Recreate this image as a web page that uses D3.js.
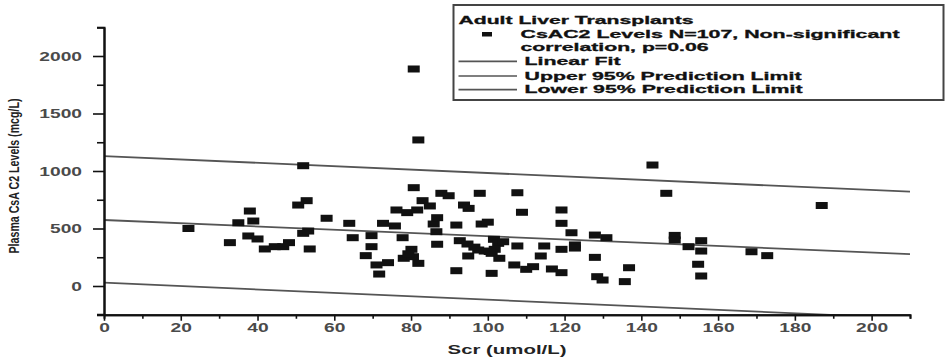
<!DOCTYPE html>
<html>
<head>
<meta charset="utf-8">
<script src="https://cdn.jsdelivr.net/npm/d3@7"></script>
<style>
  body { margin: 0; background: #fff; }
  svg { display: block; }
  text { font-family: "Liberation Sans", Arial, sans-serif; }
</style>
</head>
<body>
<svg id="chart" width="946" height="359"></svg>
<script>
// Serum creatinine (umol/L) for each adult liver transplant recipient
const scrValues = [
  22, 32.8, 35, 37.6, 38, 38.9, 40, 41.9, 44.5, 46.7,
  48.2, 50.6, 52.8, 51.9, 51.9, 53.2, 53.6, 58, 63.9, 64.8,
  68.2, 69.7, 69.7, 71, 71.7, 72.7, 74, 75.8, 76.2, 77.8,
  78.1, 79, 80.1, 80.5, 79.3, 80.7, 80.7, 81.9, 81.6, 81.9,
  83, 84.9, 85.9, 86.8, 86.6, 86.8, 87.9, 89.8, 91.8, 91.8,
  92.7, 93.8, 95, 94.7, 94.9, 97.5, 97.9, 98.4, 100, 99.2,
  101, 101.6, 102.7, 101.8, 101, 103, 107.7, 108.9, 107.7, 106.9,
  110, 111.8, 114.7, 113.8, 116.7, 119.2, 119.2, 119.2, 119.2, 121.8,
  122.7, 122.7, 127.9, 130.9, 127.9, 128.5, 129.9, 136.8, 135.7, 142.9,
  146.5, 148.7, 148.7, 152.3, 155.6, 155.6, 154.8, 155.6, 168.7, 172.8,
  187, 96.5, 104, 100.5
];

// Matching plasma CsA C2 levels (mcg/L)
const c2Levels = [
  500, 377, 550, 435, 652, 565, 409, 322, 342, 342,
  377, 704, 742, 1046, 458, 478, 322, 589, 545, 420,
  264, 438, 342, 183, 104, 545, 203, 522, 661, 420,
  241, 638, 319, 255, 280, 855, 1887, 1270, 661, 197,
  742, 696, 539, 594, 472, 363, 806, 785, 530, 133,
  394, 704, 675, 365, 261, 313, 806, 539, 555, 304,
  110, 406, 371, 319, 284, 241, 811, 641, 348, 183,
  145, 168, 348, 261, 148, 661, 545, 319, 116, 463,
  357, 330, 443, 420, 249, 81, 52, 159, 38, 1052,
  806, 440, 400, 342, 394, 304, 189, 87, 298, 264,
  700, 338, 385, 300
];

// Regression line and 95% prediction limits, as [Scr, C2] end points
const fitLine = [[0, 574], [210, 278]];
const upperLimit = [[0, 1130], [210, 820]];
const lowerLimit = [[0, 29], [210, -282]];

const xTicks = [0, 20, 40, 60, 80, 100, 120, 140, 160, 180, 200];
const xMinorTicks = [10, 30, 50, 70, 90, 110, 130, 150, 170, 190, 210];
const yTicks = [0, 500, 1000, 1500, 2000];
const yMinorTicks = [-250, 250, 750, 1250, 1750, 2250];

const xTitle = "Scr (umol/L)";
const yTitle = "Plasma CsA C2 Levels (mcg/L)";
const legendTitle = "Adult Liver Transplants";
const legendPointLabel = ["CsAC2 Levels N=107, Non-significant", "correlation, p=0.06"];
const legendLineLabels = ["Linear Fit", "Upper 95% Prediction Limit", "Lower 95% Prediction Limit"];

const svg = d3.select("#chart");
const STRETCH = 1.6;   // text in this figure is set wide

const x = d3.scaleLinear().domain([0, 210]).range([104, 910]);
const y = d3.scaleLinear().domain([-250, 2250]).range([314.75, 27.25]);

// clip region for the plot area
svg.append("defs").append("clipPath").attr("id", "plot-clip")
  .append("rect")
  .attr("x", x(0)).attr("y", y(2250))
  .attr("width", x(210) - x(0)).attr("height", y(-250) - y(2250));

// regression and prediction-limit lines
const line = d3.line().x(d => x(d[0])).y(d => y(d[1]));
const lineGroup = svg.append("g").attr("clip-path", "url(#plot-clip)");
[fitLine, upperLimit, lowerLimit].forEach(pts => {
  lineGroup.append("path")
    .attr("d", line(pts))
    .attr("fill", "none")
    .attr("stroke", "#555")
    .attr("stroke-width", 1.8);
});

// data markers
const points = scrValues.map((v, i) => [v, c2Levels[i]]);
svg.append("g").selectAll("rect").data(points).join("rect")
  .attr("x", d => x(d[0]) - 6)
  .attr("y", d => y(d[1]) - 3.5)
  .attr("width", 12)
  .attr("height", 7)
  .attr("fill", "#111");

// axes
function styleAxis(g) {
  g.select(".domain").attr("stroke", "#111").attr("stroke-width", 2);
  g.selectAll(".tick line").attr("stroke", "#111").attr("stroke-width", 1.6);
}

const yMinor = svg.append("g").attr("transform", `translate(${x(0)},0)`)
  .call(d3.axisLeft(y).tickValues(yMinorTicks).tickSize(7).tickFormat(""));
styleAxis(yMinor);
const yMajor = svg.append("g").attr("transform", `translate(${x(0)},0)`)
  .call(d3.axisLeft(y).tickValues(yTicks).tickSize(11).tickSizeOuter(0).tickFormat(d3.format("d")));
styleAxis(yMajor);
yMajor.selectAll(".tick text")
  .attr("x", 0).attr("dy", "0.34em")
  .attr("transform", `translate(-22,0) scale(${STRETCH},1)`)
  .attr("font-size", 12).attr("font-weight", "bold").attr("fill", "#4a4a4a");

const xMinor = svg.append("g").attr("transform", `translate(0,${y(-250)})`)
  .call(d3.axisBottom(x).tickValues(xMinorTicks).tickSize(4).tickFormat(""));
styleAxis(xMinor);
const xMajor = svg.append("g").attr("transform", `translate(0,${y(-250)})`)
  .call(d3.axisBottom(x).tickValues(xTicks).tickSize(6).tickSizeOuter(0).tickFormat(d3.format("d")));
styleAxis(xMajor);
xMajor.selectAll(".tick text")
  .attr("y", 0).attr("dy", "0.71em")
  .attr("transform", `translate(0,9) scale(${STRETCH},1)`)
  .attr("font-size", 12).attr("font-weight", "bold").attr("fill", "#4a4a4a");

// small stub of the x axis left of the y axis
svg.append("line")
  .attr("x1", x(0) - 7).attr("x2", x(0))
  .attr("y1", y(-250)).attr("y2", y(-250))
  .attr("stroke", "#111").attr("stroke-width", 2);

// axis titles
svg.append("text")
  .attr("transform", `translate(${(x(0) + x(210)) / 2},354) scale(1.7,1)`)
  .attr("text-anchor", "middle")
  .attr("font-size", 12).attr("font-weight", "bold").attr("fill", "#222")
  .text(xTitle);

svg.append("text")
  .attr("transform", `translate(19,176) rotate(-90) scale(1,${STRETCH})`)
  .attr("text-anchor", "middle")
  .attr("font-size", 9.5).attr("font-weight", "bold").attr("fill", "#222")
  .attr("textLength", 155).attr("lengthAdjust", "spacingAndGlyphs")
  .text(yTitle);

// legend
const legend = svg.append("g");
legend.append("rect")
  .attr("x", 453.5).attr("y", 5)
  .attr("width", 490).attr("height", 95)
  .attr("fill", "#fff").attr("stroke", "#444").attr("stroke-width", 2);

function legendText(str, tx, ty, len) {
  legend.append("text")
    .attr("x", tx).attr("y", ty)
    .attr("font-size", 11).attr("font-weight", "bold").attr("fill", "#111")
    .attr("stroke", "#111").attr("stroke-width", 0.3)
    .attr("textLength", len).attr("lengthAdjust", "spacingAndGlyphs")
    .text(str);
}

legendText(legendTitle, 458.5, 23.5, 235);
legend.append("rect")
  .attr("x", 482).attr("y", 32).attr("width", 10).attr("height", 4.5)
  .attr("fill", "#111");
legendText(legendPointLabel[0], 520.5, 37.8, 379);
legendText(legendPointLabel[1], 520.5, 51.2, 188);

const lineRowY = [61.4, 76.0, 89.6];
const lineLabelLen = [96, 277, 278];
legendLineLabels.forEach((lab, i) => {
  legend.append("line")
    .attr("x1", 458.5).attr("x2", 517)
    .attr("y1", lineRowY[i]).attr("y2", lineRowY[i])
    .attr("stroke", "#555").attr("stroke-width", 1.6);
  legendText(lab, 524.5, lineRowY[i] + 3.6, lineLabelLen[i]);
});
</script>
</body>
</html>
